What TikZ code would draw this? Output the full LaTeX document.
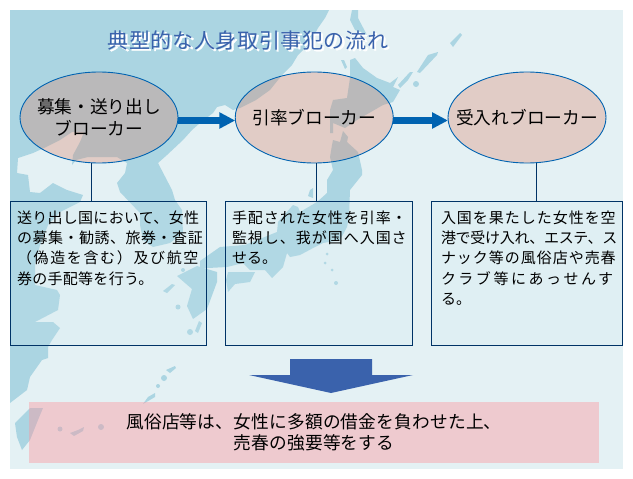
\documentclass[tikz,border=0pt]{standalone}
\usepackage{fontspec}
\setmainfont{Noto Sans CJK JP}
\usepackage{tikz}
\usetikzlibrary{arrows.meta,positioning,shapes.geometric}
\definecolor{sheet}{HTML}{E4F1F4}
\definecolor{landblue}{HTML}{ABD5E2}
\definecolor{rimblue}{HTML}{0063B1}
\definecolor{navy}{HTML}{003366}
\definecolor{deepblue}{HTML}{3A62AC}
\definecolor{brokerfill}{RGB}{219,128,103}
\definecolor{notefill}{RGB}{203,231,239}
\definecolor{pinkfill}{RGB}{252,150,158}
\newcommand{\titleshadow}[1]{\makebox[0pt][l]{\hspace{1.5pt}\raisebox{-1.5pt}{\color{white}\addfontfeature{FakeBold=1.5}#1}}#1}
\newcommand{\spaced}[2]{{\addfontfeature{LetterSpace=#1}#2}}
\newcommand{\lowered}[1]{\raisebox{-2pt}{#1}}
\newcommand{\notetext}[2]{\parbox[c][132pt][t]{#1}{\vspace*{3pt}\fontsize{15}{20.3}\selectfont #2}}
\tikzset{
  land/.style={fill=landblue,draw=none},
  broker/.style={ellipse,draw=rimblue,line width=0.9pt,fill=brokerfill,fill opacity=0.32,text opacity=1,
    minimum width=158pt,minimum height=91pt,inner xsep=-30pt,inner ysep=0pt,outer sep=0pt,align=center,
    font=\fontsize{17.7}{21.5}\selectfont},
  note/.style={rectangle,draw=navy,line width=0.9pt,fill=notefill,fill opacity=0.2,text opacity=1,draw opacity=1,
    minimum height=144pt,inner xsep=6.5pt,inner ysep=6pt,outer sep=0pt,anchor=north west},
  flow/.style={rimblue,line width=6.5pt,-{Triangle[length=16pt,width=15.5pt]}},
  link/.style={navy,line width=0.9pt}
}
\begin{document}
\begin{tikzpicture}[x=1pt,y=-1pt]
  \useasboundingbox (0,0) rectangle (633,479);
  \fill[sheet] (10,10) rectangle (623,469);

  \fill[land] (10,10) -- (329,10) -- (325,18) -- (318,28) -- (310,43) -- (298,55) -- (292,65) -- (282,75)
    -- (270,90) -- (256,100) -- (240,108) -- (233,110) -- (225,105) -- (217,107) -- (213,113) -- (200,123)
    -- (192,130) -- (183,140) -- (167,155) -- (158,163) -- (172,190) -- (175,200) -- (182,210) -- (183,233)
    -- (170,243) -- (153,247) -- (143,240) -- (140,225) -- (140,213) -- (120,192) -- (117,183) -- (125,173)
    -- (127,163) -- (117,157) -- (88,157) -- (76,160) -- (72,165) -- (73,155) -- (80,142) -- (84,132)
    -- (72,132) -- (60,140) -- (44,148) -- (33,153) -- (18,158) -- (17,173) -- (28,175) -- (30,192)
    -- (40,193) -- (53,183) -- (67,190) -- (83,195) -- (80,202) -- (60,212) -- (48,225) -- (40,245)
    -- (35,265) -- (35,285) -- (57,290) -- (60,295) -- (58,310) -- (35,322) -- (53,322) -- (60,328)
    -- (52,340) -- (48,347) -- (48,358) -- (42,360) -- (30,377) -- (27,390) -- (10,403) -- cycle;
  \fill[land] (43,408) -- (30,408) -- (15,423) -- (17,437) -- (22,450) -- (30,440) -- (38,420) -- cycle;
  \fill[land] (352,10) -- (358,10) -- (358,18) -- (368,37) -- (363,33) -- (355,30) -- (350,20) -- cycle;
  \fill[land] (341,60) -- (344,60) -- (347,67) -- (345,69) -- cycle;
  \fill[land] (350,60) -- (355,58) -- (363,68) -- (377,78) -- (390,83) -- (398,77) -- (393,87) -- (400,90)
    -- (393,102) -- (383,105) -- (357,120) -- (345,128) -- (333,123) -- (333,133) -- (330,133) -- (330,110)
    -- (333,100) -- (347,98) -- (350,78) -- cycle;
  \fill[land] (333,140) -- (340,142) -- (343,131) -- (348,137) -- (347,142) -- (358,152) -- (362,170)
    -- (362,175) -- (350,190) -- (349,217) -- (347,227) -- (340,240) -- (323,243) -- (315,247) -- (300,255)
    -- (290,257) -- (287,253) -- (283,267) -- (272,278) -- (265,270) -- (250,270) -- (243,263) -- (227,267)
    -- (208,268) -- (200,268) -- (200,261) -- (220,247) -- (245,245) -- (277,232) -- (278,222) -- (293,205)
    -- (298,207) -- (300,212) -- (317,202) -- (327,193) -- (327,180) -- (333,170) -- (330,157) -- (332,145) -- cycle;
  \fill[land] (228,272) -- (255,272) -- (250,282) -- (235,284) -- (228,292) -- (226,280) -- cycle;
  \fill[land] (217,272) -- (217,282) -- (207,309) -- (193,319) -- (187,306) -- (192,289) -- (177,276)
    -- (197,266) -- cycle;
  \fill[land] (310,190) -- (313,188) -- (313,198) -- (308,196) -- cycle;
  \fill[land] (400,88) -- (398,85) -- (410,72) -- (413,72) -- (408,80) -- cycle;
  \fill[land] (417,72) -- (428,55) -- (438,52) -- (437,55) -- (420,73) -- cycle;
  \fill[land] (450,43) -- (460,33) -- (462,35) -- (453,47) -- cycle;
  \fill[land] (163,291) -- (172,284) -- (175,285) -- (167,293) -- cycle;
  \fill[land] (199,321) -- (202,323) -- (198,333) -- (195,331) -- cycle;
  \fill[land] (148,397) -- (155,393) -- (155,397) -- (143,404) -- cycle;
  \fill[land] (166,370) -- (175,366) -- (176,368) -- (170,373) -- cycle;
  \fill[land] (70,433) -- (78,430) -- (84,427) -- (83,431) -- (74,436) -- cycle;
  \foreach \isle/\rad in {{(416,84)/3},{(190,332)/3},{(178,307)/2.5},{(164,378)/3},{(158,386)/2},{(60,429)/2.5},
      {(101,427)/3},{(183,270)/2},{(327,254)/1.5},{(325,263)/1.5},{(332,270)/1.5},{(336,283)/2}}
    \fill[land] \isle circle[radius=\rad];

  \path
  (99,117.5) node[broker](recruit) {\lowered{募集・送り出し}\\\lowered{ブローカー}}
  (314.25,117.5) node[broker](escort) {\lowered{引率ブローカー}}
  (527,117.5) node[broker](receive) {\lowered{受入れブローカー}}
  (10.5,201.5) node[note](recruitnote) {\notetext{183pt}{\spaced{2}{送り出し国において、女性}\\
      \spaced{3.5}{の募集・勧誘、旅券・査証}\\ \spaced{11}{（偽造を含む）及び航空}\\ \spaced{2}{券の手配等を行う。}}}
  (225.5,201.5) node[note](escortnote) {\notetext{173.5pt}{\spaced{6.5}{手配された女性を引率・}\\
      \spaced{6.5}{監視し、我が国へ入国さ}\\ せる。}}
  (431.5,201.5) node[note,inner xsep=9.5pt](receivenote) {\notetext{172pt}{\spaced{6.5}{入国を果たした女性を空}\\
      \spaced{-2}{港で受け入れ、エステ、ス}\\ \spaced{6.5}{ナック等の風俗店や売春}\\ \spaced{16.7}{クラブ等にあっせんす}\\ る。}}
  (314,432.5) node[rectangle,fill=pinkfill,fill opacity=0.42,text opacity=1,minimum width=570pt,minimum height=61pt,
    inner sep=0pt,align=center,font=\fontsize{17.7}{21}\selectfont](result) {\spaced{1}{風俗店等は、女性に多額の借金を負わせた上、}\\\spaced{1}{売春の強要等をする}}
  (248,41) node[font=\fontsize{21}{25}\selectfont,text=deepblue](heading) {\spaced{3}{\titleshadow{典型的な人身取引事犯の流れ}}}
  ;

  \draw[flow] ([yshift=-3pt]recruit.east) -- ([yshift=-3pt]escort.west);
  \draw[flow] ([yshift=-3pt]escort.east) -- ([yshift=-3pt]receive.west);
  \draw[link] ([xshift=-8pt]recruit.south) -- ([xshift=-8pt]recruit.south |- recruitnote.north);
  \draw[link] ([xshift=2pt]escort.south) -- ([xshift=2pt]escort.south |- escortnote.north);
  \draw[link] ([xshift=9pt]receive.south) -- ([xshift=9pt]receive.south |- receivenote.north);

  \fill[deepblue] (290,359) -- (372,359) -- (372,375) -- (413,375) -- (331,393) -- (249,375) -- (290,375) -- cycle;
\end{tikzpicture}
\end{document}
